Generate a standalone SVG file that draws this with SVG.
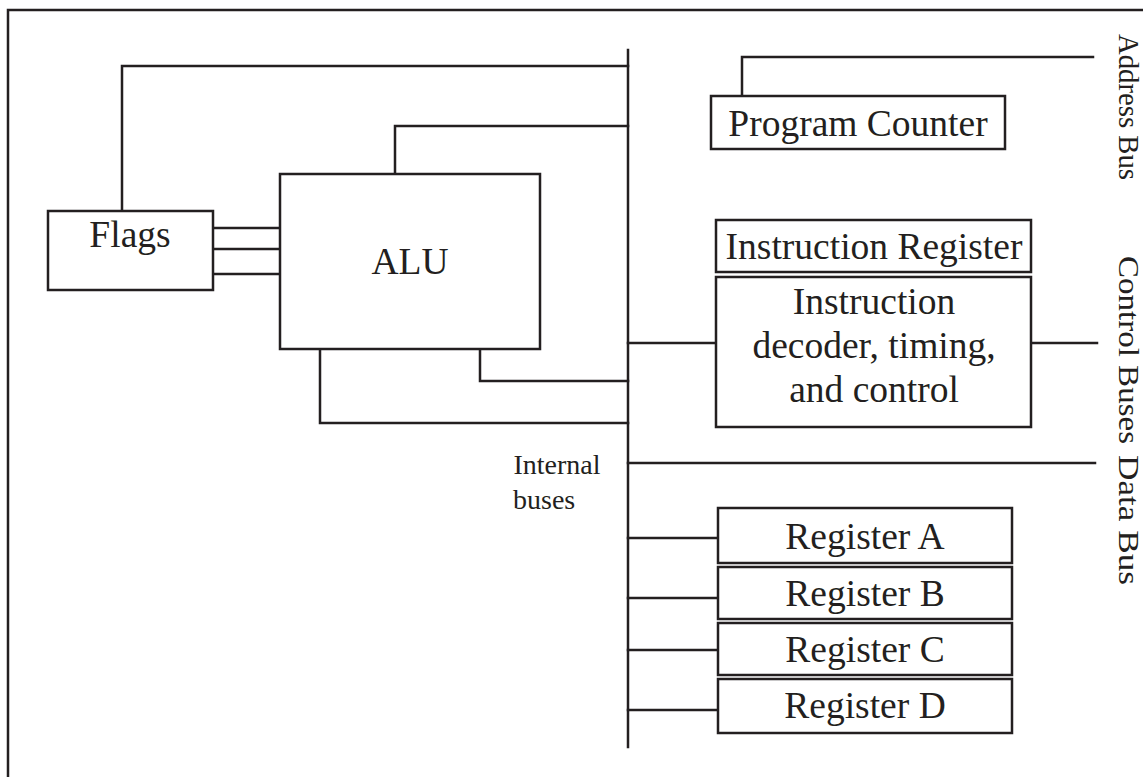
<svg xmlns="http://www.w3.org/2000/svg" width="1143" height="777" viewBox="0 0 1143 777">
<style>
  .box { fill: #fff; stroke: #231f20; stroke-width: 2.5; }
  .ln { fill: none; stroke: #231f20; stroke-width: 2.5; stroke-linecap: square; }
  .t { font-family: "Liberation Serif", "Times New Roman", serif; fill: #231f20; text-anchor: middle; }
  .big { font-size: 37.5px; }
  .mid { font-size: 28px; }
  .side { font-family: "Liberation Serif", "Times New Roman", serif; fill: #231f20; font-size: 29px; }
</style>
<rect width="1143" height="777" fill="#fff"/>
<g id="frame">
  <path class="ln" d="M8,777 V10 H1143"/>
</g>
<g id="connectors">
  <path class="ln" d="M628,50 V747"/>
  <path class="ln" d="M122,211 V66 H628"/>
  <path class="ln" d="M395,174 V126 H628"/>
  <path class="ln" d="M213,228 H280 M213,249 H280 M213,274 H280"/>
  <path class="ln" d="M320,349 V423 H628"/>
  <path class="ln" d="M480,349 V381 H628"/>
  <path class="ln" d="M742,96 V57 H1093"/>
  <path class="ln" d="M628,343 H716 M1031,343 H1097"/>
  <path class="ln" d="M628,463 H1095"/>
  <path class="ln" d="M628,538 H716 M628,598 H716 M628,650 H716 M628,710 H716"/>
</g>
<g id="flags">
  <rect class="box" x="48" y="211" width="165" height="79"/>
  <text class="t big" x="130" y="247">Flags</text>
</g>
<g id="alu">
  <rect class="box" x="280" y="174" width="260" height="175"/>
  <text class="t big" x="410" y="274">ALU</text>
</g>
<g id="pc">
  <rect class="box" x="711" y="96" width="294" height="53"/>
  <text class="t big" x="858" y="136">Program Counter</text>
</g>
<g id="ir">
  <rect class="box" x="716" y="220" width="315" height="52"/>
  <text class="t big" x="874" y="259">Instruction Register</text>
</g>
<g id="decoder">
  <rect class="box" x="716" y="277" width="315" height="150"/>
  <text class="t big" x="874" y="314">Instruction</text>
  <text class="t big" x="874" y="358">decoder, timing,</text>
  <text class="t big" x="874" y="402">and control</text>
</g>
<g id="regA">
  <rect class="box" x="718" y="508" width="294" height="55"/>
  <text class="t big" x="865" y="549">Register A</text>
</g>
<g id="regB">
  <rect class="box" x="718" y="567" width="294" height="52"/>
  <text class="t big" x="865" y="606">Register B</text>
</g>
<g id="regC">
  <rect class="box" x="718" y="623" width="294" height="52"/>
  <text class="t big" x="865" y="662">Register C</text>
</g>
<g id="regD">
  <rect class="box" x="718" y="679" width="294" height="54"/>
  <text class="t big" x="865" y="718">Register D</text>
</g>
<g id="labels">
  <text class="t mid" x="557" y="474">Internal</text>
  <text class="t mid" x="513" y="509" style="text-anchor:start">buses</text>
  <text class="side" transform="translate(1119,34) rotate(90)" textLength="146" lengthAdjust="spacingAndGlyphs">Address Bus</text>
  <text class="side" transform="translate(1119,256) rotate(90)" textLength="188" lengthAdjust="spacingAndGlyphs">Control Buses</text>
  <text class="side" transform="translate(1119,455) rotate(90)" textLength="130" lengthAdjust="spacingAndGlyphs">Data Bus</text>
</g>
</svg>
